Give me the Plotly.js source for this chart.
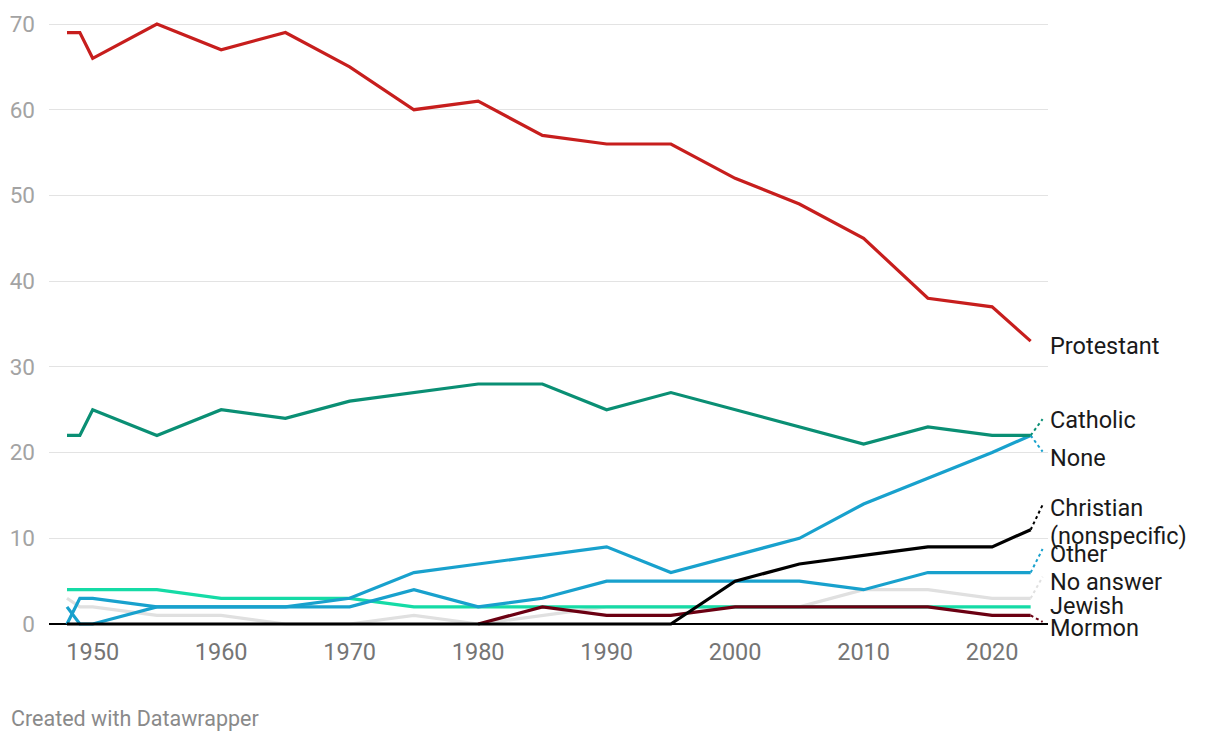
<!DOCTYPE html>
<html>
<head>
<meta charset="utf-8">
<script src="https://cdn.plot.ly/plotly-3.0.1.min.js"></script>
<style>
  html, body { margin: 0; padding: 0; background: #fff; }
  #chart { width: 1220px; height: 740px; }
</style>
</head>
<body>
<div id="chart"></div>
<script>
// ---- Data (percent) ----
const years = [1948, 1949, 1950, 1955, 1960, 1965, 1970, 1975, 1980, 1985, 1990, 1995, 2000, 2005, 2010, 2015, 2020, 2023];
const protestant = [69, 69, 66, 70, 67, 69, 65, 60, 61, 57, 56, 56, 52, 49, 45, 38, 37, 33];
const catholic   = [22, 22, 25, 22, 25, 24, 26, 27, 28, 28, 25, 27, 25, 23, 21, 23, 22, 22];
const none       = [2, 0, 0, 2, 2, 2, 3, 6, 7, 8, 9, 6, 8, 10, 14, 17, 20, 22];
const christian  = [0, 0, 0, 0, 0, 0, 0, 0, 0, 0, 0, 0, 5, 7, 8, 9, 9, 11];
const other      = [0, 3, 3, 2, 2, 2, 2, 4, 2, 3, 5, 5, 5, 5, 4, 6, 6, 6];
const noAnswer   = [3, 2, 2, 1, 1, 0, 0, 1, 0, 1, 2, 2, 2, 2, 4, 4, 3, 3];
const jewish     = [4, 4, 4, 4, 3, 3, 3, 2, 2, 2, 2, 2, 2, 2, 2, 2, 2, 2];
const mormon     = [null, null, null, null, null, null, null, null, 0, 2, 1, 1, 2, 2, 2, 2, 1, 1];
const xTicks = [1950, 1960, 1970, 1980, 1990, 2000, 2010, 2020];
const yTicks = [0, 10, 20, 30, 40, 50, 60, 70];

// ---- Series config (drawing order: bottom to top) ----
// labels: lines of the end label with their placement in value units; leadY: end of dotted leader
const series = [
  { name: 'No answer', values: noAnswer, color: '#e0e0e0', labels: [['No answer', 4.9]], leadY: 5.5 },
  { name: 'Jewish', values: jewish, color: '#15dba6', labels: [['Jewish', 2.1]], leadY: null },
  { name: 'Mormon', values: mormon, color: '#6b0012', labels: [['Mormon', 0, -4]], leadY: 0.25 },
  { name: 'Other', values: other, color: '#18a1cd', labels: [['Other', 8.2]], leadY: 8.75 },
  { name: 'None', values: none, color: '#18a1cd', labels: [['None', 19.4]], leadY: 20.1 },
  { name: 'Christian (nonspecific)', values: christian, color: '#000000', labels: [['Christian', 13.5], ['(nonspecific)', 10.25]], leadY: 13.9 },
  { name: 'Catholic', values: catholic, color: '#0a8f74', labels: [['Catholic', 23.8]], leadY: 23.9 },
  { name: 'Protestant', values: protestant, color: '#c71e1d', labels: [['Protestant', 32.4]], leadY: null }
];

const lastYear = years[years.length - 1];

const traces = series.map(s => ({
  x: years,
  y: s.values,
  type: 'scatter',
  mode: 'lines',
  name: s.name,
  line: { color: s.color, width: 3.2 },
  connectgaps: false,
  hoverinfo: 'x+y+name'
}));

const annotations = [];
series.forEach(s => {
  s.labels.forEach(l => {
    annotations.push({
      x: 1, xref: 'paper', xshift: 0,
      y: l[1], yref: 'y', yshift: l[2] || 0,
      text: l[0],
      showarrow: false,
      xanchor: 'left', yanchor: 'middle', align: 'left',
      font: { family: 'Roboto, sans-serif', size: 23.5, color: '#1a1a1a' }
    });
  });
});

annotations.push({
  x: 0, xref: 'paper', xanchor: 'left',
  y: 0, yref: 'paper', yanchor: 'top',
  xshift: -40, yshift: -77,
  text: 'Created with Datawrapper',
  showarrow: false,
  font: { family: 'Roboto, sans-serif', size: 21.5, color: '#8a8a8a' }
});

const shapes = series.filter(s => s.leadY !== null).map(s => ({
  type: 'line', xref: 'x', yref: 'y',
  x0: lastYear, y0: s.values[s.values.length - 1],
  x1: 2023.93, y1: s.leadY,
  line: { color: s.color, width: 2, dash: 'dot' },
  layer: 'above'
}));

const layout = {
  width: 1220, height: 740,
  margin: { l: 49, r: 172, t: 21, b: 113 },
  paper_bgcolor: '#ffffff', plot_bgcolor: '#ffffff',
  showlegend: false,
  font: { family: 'Roboto, sans-serif' },
  xaxis: {
    range: [1946.6, 2024.35],
    tickvals: xTicks,
    ticktext: xTicks.map(String),
    showgrid: false, zeroline: false, showline: false,
    ticks: '', ticklabelstandoff: 8,
    tickfont: { family: 'Roboto, sans-serif', size: 23.5, color: '#757575' },
    fixedrange: true
  },
  yaxis: {
    range: [-0.35, 70.35],
    tickvals: yTicks,
    ticktext: yTicks.map(String),
    showgrid: true, gridcolor: '#e3e3e3', gridwidth: 1,
    zeroline: true, zerolinecolor: '#000000', zerolinewidth: 1.5,
    showline: false, ticks: '', ticklabelstandoff: 13,
    tickfont: { family: 'Roboto, sans-serif', size: 22.5, color: '#a3a3a3' },
    fixedrange: true
  },
  annotations: annotations,
  shapes: shapes
};

Plotly.newPlot('chart', traces, layout, { displayModeBar: false, staticPlot: true });
</script>
</body>
</html>
